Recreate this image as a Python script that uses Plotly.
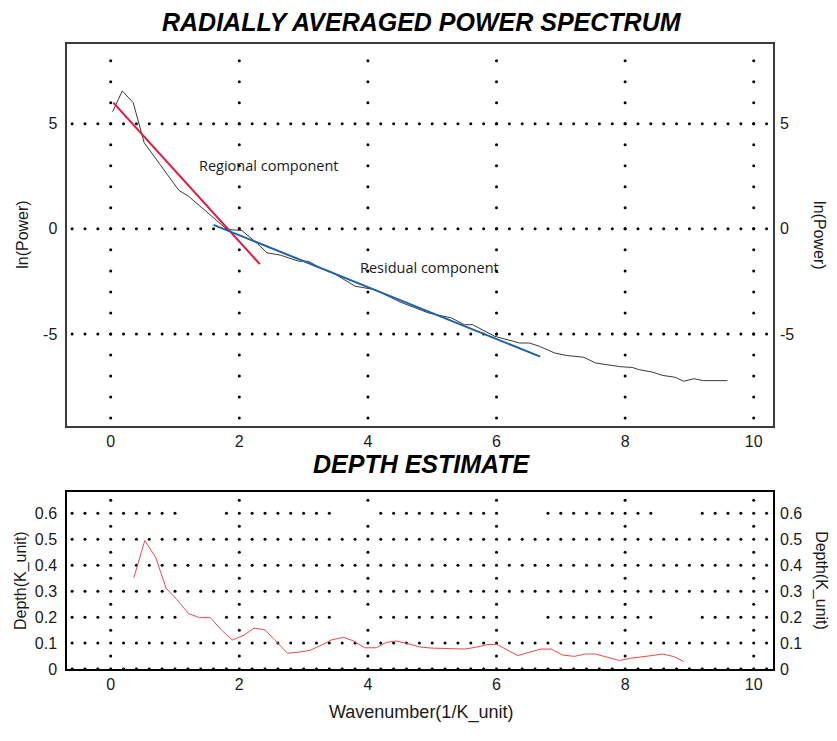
import numpy as np
import plotly.graph_objects as go

# ---------------- data ----------------
spec_k = [0.03, 0.18, 0.35, 0.52, 1.06, 1.21, 1.81, 2.04, 2.27, 2.43, 2.64, 2.92, 3.07, 3.26, 3.44,
          3.80, 4.11, 4.31, 4.50, 4.94, 5.30, 5.50, 5.63, 5.97, 6.36, 6.51, 6.67, 6.90, 7.08, 7.36,
          7.54, 7.93, 8.11, 8.22, 8.42, 8.58, 8.78, 8.91, 9.07, 9.22, 9.59]
spec_lnp = [5.57, 6.56, 6.00, 4.10, 1.83, 1.55, -0.03, -0.08, -0.67, -1.14, -1.25, -1.54, -1.54, -1.86,
            -2.06, -2.73, -2.89, -3.21, -3.48, -4.00, -4.24, -4.56, -4.56, -5.11, -5.43, -5.43, -5.59,
            -5.90, -6.02, -6.11, -6.38, -6.56, -6.59, -6.70, -6.81, -6.97, -7.06, -7.25, -7.13, -7.22, -7.22]

regional_k = [0.04, 2.32]
regional_lnp = [6.00, -1.68]
residual_k = [1.60, 6.68]
residual_lnp = [0.19, -6.08]

depth_k = [0.36, 0.53, 0.70, 0.86, 1.03, 1.21, 1.38, 1.55, 1.72, 1.89, 2.07, 2.23, 2.40, 2.58, 2.75,
           2.92, 3.10, 3.28, 3.44, 3.62, 3.77, 3.95, 4.13, 4.29, 4.44, 4.62, 4.81, 4.98, 5.15, 5.32,
           5.50, 5.68, 5.85, 6.00, 6.15, 6.33, 6.51, 6.69, 6.85, 7.03, 7.21, 7.38, 7.54, 7.72, 7.91,
           8.09, 8.27, 8.42, 8.58, 8.76, 8.91]
depth_val = [0.352, 0.495, 0.430, 0.312, 0.267, 0.214, 0.198, 0.198, 0.151, 0.112, 0.130, 0.158, 0.151,
             0.103, 0.061, 0.065, 0.072, 0.093, 0.113, 0.122, 0.109, 0.082, 0.082, 0.103, 0.108, 0.098,
             0.085, 0.081, 0.079, 0.077, 0.077, 0.084, 0.094, 0.096, 0.077, 0.052, 0.065, 0.077, 0.077,
             0.054, 0.049, 0.058, 0.058, 0.046, 0.033, 0.042, 0.049, 0.052, 0.058, 0.048, 0.029]

x_ticks = [0, 2, 4, 6, 8, 10]
lnp_ticks = [-5, 0, 5]
lnp_tick_text = ["-5", "0", "5"]
depth_ticks = [0, 0.1, 0.2, 0.3, 0.4, 0.5, 0.6]
depth_tick_text = ["0", "0.1", "0.2", "0.3", "0.4", "0.5", "0.6"]

TITLE_TOP = "RADIALLY AVERAGED POWER SPECTRUM"
TITLE_BOTTOM = "DEPTH ESTIMATE"

# ---------------- figure ----------------
FONT = "Liberation Sans, Arial, sans-serif"
fig = go.Figure()

# dotted grid (top)
gx, gy = [], []
for xv in x_ticks:
    for yv in range(-9, 9):
        gx.append(xv); gy.append(yv)
for yv in lnp_ticks:
    for xv in np.round(np.arange(-0.6, 10.21, 0.2), 2):
        gx.append(xv); gy.append(yv)
fig.add_trace(go.Scatter(x=gx, y=gy, mode="markers", marker=dict(size=3, color="black"),
                         hoverinfo="skip", showlegend=False, xaxis="x", yaxis="y"))

# dotted grid (bottom)
gaps = [(1.1, 1.7), (3.5, 4.1), (6.1, 6.7), (8.5, 9.1)]
bx, by = [], []
for yv in depth_ticks:
    for xv in np.round(np.arange(-0.6, 10.21, 0.2), 2):
        if yv in (0.2, 0.6) and any(a < xv < b for a, b in gaps):
            continue
        bx.append(xv); by.append(yv)
for xv in x_ticks:
    for yv in np.round(np.arange(0.05, 0.66, 0.1), 2):
        bx.append(xv); by.append(yv)
fig.add_trace(go.Scatter(x=bx, y=by, mode="markers", marker=dict(size=3, color="black"),
                         hoverinfo="skip", showlegend=False, xaxis="x2", yaxis="y2"))

# spectrum
fig.add_trace(go.Scatter(x=spec_k, y=spec_lnp, mode="lines", line=dict(color="#3a3a3a", width=1),
                         showlegend=False, xaxis="x", yaxis="y"))
fig.add_trace(go.Scatter(x=regional_k, y=regional_lnp, mode="lines", line=dict(color="#e4173e", width=2),
                         showlegend=False, xaxis="x", yaxis="y"))
fig.add_trace(go.Scatter(x=residual_k, y=residual_lnp, mode="lines", line=dict(color="#1d62a8", width=2),
                         showlegend=False, xaxis="x", yaxis="y"))
# depth
fig.add_trace(go.Scatter(x=depth_k, y=depth_val, mode="lines", line=dict(color="#ec4a4c", width=1),
                         showlegend=False, xaxis="x2", yaxis="y2"))
# dummy traces for right axes
fig.add_trace(go.Scatter(x=[None], y=[None], showlegend=False, xaxis="x", yaxis="y3"))
fig.add_trace(go.Scatter(x=[None], y=[None], showlegend=False, xaxis="x2", yaxis="y4"))

XR = [-0.675, 10.30]
XD = [67.3 / 837, 773 / 837]
top_dom = [1 - 431.5 / 741, 1 - 45 / 741]
bot_dom = [1 - 677.3 / 741, 1 - 498.3 / 741]
tickfont = dict(family=FONT, size=16, color="#1a1a1a")

common_top = dict(showgrid=False, zeroline=False, ticks="", showline=True, mirror=True,
                  linecolor="#3c3c3c", linewidth=1.5, tickfont=tickfont)
common_bot = dict(showgrid=False, zeroline=False, ticks="", showline=True, mirror=True,
                  linecolor="black", linewidth=2, tickfont=tickfont)

fig.update_layout(
    width=837, height=741, margin=dict(l=0, r=0, t=0, b=0),
    paper_bgcolor="white", plot_bgcolor="white",
    xaxis=dict(domain=XD, range=XR, anchor="y", tickvals=x_ticks, ticklabelstandoff=0, **common_top),
    yaxis=dict(domain=top_dom, range=[-9.39, 8.77], anchor="x", tickvals=lnp_ticks,
               ticktext=lnp_tick_text, ticklabelstandoff=5, **common_top),
    yaxis3=dict(overlaying="y", side="right", range=[-9.39, 8.77], anchor="x", tickvals=lnp_ticks,
                ticktext=lnp_tick_text, ticklabelstandoff=6, showgrid=False, zeroline=False,
                ticks="", showline=False, tickfont=tickfont),
    xaxis2=dict(domain=XD, range=XR, anchor="y2", tickvals=x_ticks, ticklabelstandoff=0, **common_bot),
    yaxis2=dict(domain=bot_dom, range=[0, 0.681], anchor="x2", tickvals=depth_ticks,
                ticktext=depth_tick_text, ticklabelstandoff=5, **common_bot),
    yaxis4=dict(overlaying="y2", side="right", range=[0, 0.681], anchor="x2", tickvals=depth_ticks,
                ticktext=depth_tick_text, ticklabelstandoff=6, showgrid=False, zeroline=False,
                ticks="", showline=False, tickfont=tickfont),
)

ann_font = dict(family=FONT, size=16, color="#1a1a1a")
title_font = dict(family="Liberation Sans, Arial, sans-serif",
                  size=25, color="black", weight="bold", style="italic")
annotations = [
    dict(text=TITLE_TOP, x=422 / 837, y=1 - 22 / 741, xref="paper", yref="paper", showarrow=False,
         font=title_font, xanchor="center", yanchor="middle"),
    dict(text=TITLE_BOTTOM, x=421.5 / 837, y=1 - 470 / 741, xref="paper", yref="paper", showarrow=False,
         font=title_font, xanchor="center", yanchor="middle"),
    dict(text="ln(Power)", x=21.7 / 837, y=1 - 238 / 741, xref="paper", yref="paper", showarrow=False,
         textangle=-90, font=ann_font, xanchor="center", yanchor="middle"),
    dict(text="ln(Power)", x=820 / 837, y=1 - 238 / 741, xref="paper", yref="paper", showarrow=False,
         textangle=90, font=ann_font, xanchor="center", yanchor="middle"),
    dict(text="Depth(K_unit)", x=21.7 / 837, y=1 - 587.5 / 741, xref="paper", yref="paper",
         showarrow=False, textangle=-90, font=ann_font, xanchor="center", yanchor="middle"),
    dict(text="Depth(K_unit)", x=820.7 / 837, y=1 - 588 / 741, xref="paper", yref="paper",
         showarrow=False, textangle=90, font=ann_font, xanchor="center", yanchor="middle"),
    dict(text="Wavenumber(1/K_unit)", x=420.5 / 837, y=1 - 721.7 / 741, xref="paper", yref="paper",
         showarrow=False, font=dict(family=FONT, size=18, color="#1a1a1a"),
         xanchor="center", yanchor="middle"),
    dict(text="Regional component", x=1.34, y=3.0, xref="x", yref="y", showarrow=False,
         font=dict(family="Open Sans, sans-serif", size=14.5, color="#1a1a1a"),
         xanchor="left", yanchor="middle"),
    dict(text="Residual component", x=3.84, y=-1.83, xref="x", yref="y", showarrow=False,
         font=dict(family="Open Sans, sans-serif", size=14.5, color="#1a1a1a"),
         xanchor="left", yanchor="middle"),
]
fig.update_layout(annotations=annotations)

fig.write_html("out.html")
